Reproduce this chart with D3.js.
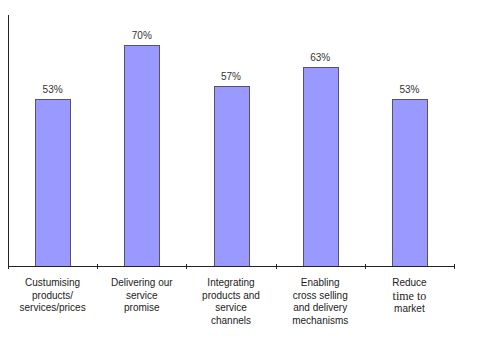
<!DOCTYPE html>
<html><head><meta charset="utf-8">
<script src="https://cdn.jsdelivr.net/npm/d3@7"></script>
<style>body{margin:0;background:#fff}svg{display:block}</style>
</head><body>
<script>
const categories = [
  ["Custumising","products/","services/prices"],
  ["Delivering our","service","promise"],
  ["Integrating","products and","service","channels"],
  ["Enabling","cross selling","and delivery","mechanisms"],
  ["Reduce","time to","market"]
];
const values = [53, 70, 57, 63, 53];
const valueLabels = ["53%","70%","57%","63%","53%"];

const W = 500, H = 342;
const svg = d3.select("body").append("svg").attr("width", W).attr("height", H);
const x0 = 8, x1 = 454, yBase = 266, yTop = 15;
const x = d3.scaleBand().domain(d3.range(values.length)).range([x0, x1]).padding(0);
const y = d3.scaleLinear().domain([0, 80]).range([yBase, yBase - 80 * 3.155]);
const bw = 35;

svg.selectAll("rect.bar").data(values).join("rect")
  .attr("x", (d, i) => Math.round(x(i) + x.bandwidth() / 2 - bw / 2) + 0.5)
  .attr("y", d => Math.round(y(d)) + 0.5)
  .attr("width", bw)
  .attr("height", d => Math.round(yBase - y(d)))
  .attr("fill", "#9999FF").attr("stroke", "#555566").attr("stroke-width", 1);

svg.selectAll("text.val").data(values).join("text")
  .attr("x", (d, i) => x(i) + x.bandwidth() / 2)
  .attr("y", d => y(d) - 6)
  .attr("text-anchor", "middle")
  .attr("font-family", "Liberation Sans, Arial, sans-serif")
  .attr("font-size", 10).attr("fill", "#333")
  .text((d, i) => valueLabels[i]);

// axes
svg.append("line").attr("x1", x0 + 0.5).attr("x2", x0 + 0.5).attr("y1", yTop).attr("y2", yBase).attr("stroke", "#222");
svg.append("line").attr("x1", x0).attr("x2", x1 + 1).attr("y1", yBase + 0.5).attr("y2", yBase + 0.5).attr("stroke", "#222");
const tickPos = d3.range(values.length + 1).map(i => i < values.length ? x(i) : x1);
svg.selectAll("line.tick").data(tickPos).join("line")
  .attr("x1", d => Math.round(d) + 0.5).attr("x2", d => Math.round(d) + 0.5)
  .attr("y1", yBase - 2).attr("y2", yBase + 3).attr("stroke", "#222");

// category labels
categories.forEach((lines, i) => {
  const cx = x(i) + x.bandwidth() / 2;
  let yy = 286;
  lines.forEach((t, j) => {
    const serif = (t === "time to");
    svg.append("text")
      .attr("x", cx)
      .attr("y", serif ? yy + 1.5 : yy)
      .attr("text-anchor", "middle")
      .attr("font-family", serif ? "Liberation Serif, Times New Roman, serif" : "Liberation Sans, Arial, sans-serif")
      .attr("font-size", serif ? 12 : 10)
      .attr("fill", "#222")
      .text(t);
    yy += serif ? 13 : 12.5;
  });
});
</script>
</body></html>
